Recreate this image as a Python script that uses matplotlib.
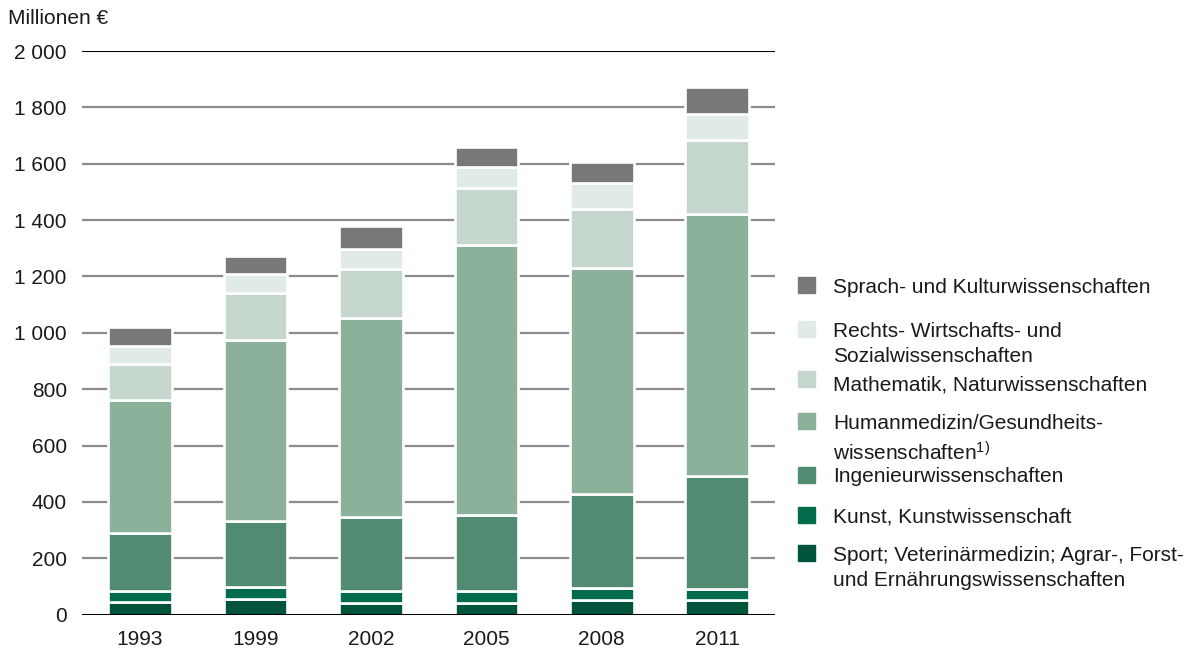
import numpy as np
import matplotlib.pyplot as plt
from matplotlib.patches import Rectangle

plt.rcParams['font.family'] = ['Liberation Sans', 'DejaVu Sans']
plt.rcParams['mathtext.default'] = 'regular'

years = ['1993', '1999', '2002', '2005', '2008', '2011']

# Millionen €, bottom to top
sport = [45, 56, 42, 42, 51, 50]
kunst = [39, 43, 41, 43, 44, 40]
ingenieur = [207, 232, 265, 268, 334, 401]
humanmedizin = [472, 642, 703, 959, 801, 931]
mathematik = [128, 169, 174, 201, 211, 261]
rechts = [61, 68, 72, 74, 91, 93]
sprach = [67, 64, 83, 73, 74, 96]

series = [sport, kunst, ingenieur, humanmedizin, mathematik, rechts, sprach]
colors = ['#00543c', '#006c4b', '#518b71', '#8bb19b', '#c5d6cc', '#e1eae4', '#77787a']
labels = ['Sport; Veterinärmedizin; Agrar-, Forst-\nund Ernährungswissenschaften',
          'Kunst, Kunstwissenschaft',
          'Ingenieurwissenschaften',
          'Humanmedizin/Gesundheits-\nwissenschaften$^{1)}$',
          'Mathematik, Naturwissenschaften',
          'Rechts- Wirtschafts- und\nSozialwissenschaften',
          'Sprach- und Kulturwissenschaften']

text_color = '#1a1a1a'
fs = 15

fig = plt.figure(figsize=(12.01, 6.55), dpi=100)
ax = fig.add_axes([0.0683, 0.0617, 0.577, 0.8604])

x = np.arange(len(years))
bottom = np.zeros(len(years))
for vals, col in zip(series, colors):
    ax.bar(x, vals, bottom=bottom, width=0.55, color=col, edgecolor='white',
           linewidth=1.9, zorder=3)
    bottom += np.array(vals)

for y in range(200, 2000, 200):
    ax.axhline(y, color='#8c8c8c', linewidth=1.6, zorder=1)
ax.axhline(2000, color='black', linewidth=1.5, zorder=1)
ax.axhline(0, color='black', linewidth=2.2, zorder=4)

ax.set_xlim(-0.5, 5.5)
ax.set_ylim(0, 2000)
ax.set_xticks(x)
ax.set_xticklabels(years)
ax.set_yticks(range(0, 2001, 200))
ax.set_yticklabels([f'{v:,}'.replace(',', ' ') for v in range(0, 2001, 200)])
ax.tick_params(axis='both', length=0, labelsize=fs, colors=text_color)
ax.tick_params(axis='y', pad=11)
ax.tick_params(axis='x', pad=11)
for s in ax.spines.values():
    s.set_visible(False)

fig.text(8 / 1201, 1 - 19 / 655, 'Millionen €', fontsize=fs, color=text_color,
         va='center', ha='left')

# legend, top entry first
W, H = 1201, 655
patch_y = [285, 329, 379, 421, 475, 515, 553]
text_y = [288, 344, 385, 439, 477, 517, 568]
for i, (lab, col) in enumerate(zip(labels[::-1], colors[::-1])):
    py = patch_y[i]
    fig.patches.append(Rectangle((798 / W, 1 - (py + 8) / H), 17 / W, 16 / H,
                                 color=col, transform=fig.transFigure))
    fig.text(833 / W, 1 - text_y[i] / H, lab, fontsize=fs, color=text_color,
             va='center', ha='left', linespacing=1.45)

fig.savefig('out.png', dpi=100)
